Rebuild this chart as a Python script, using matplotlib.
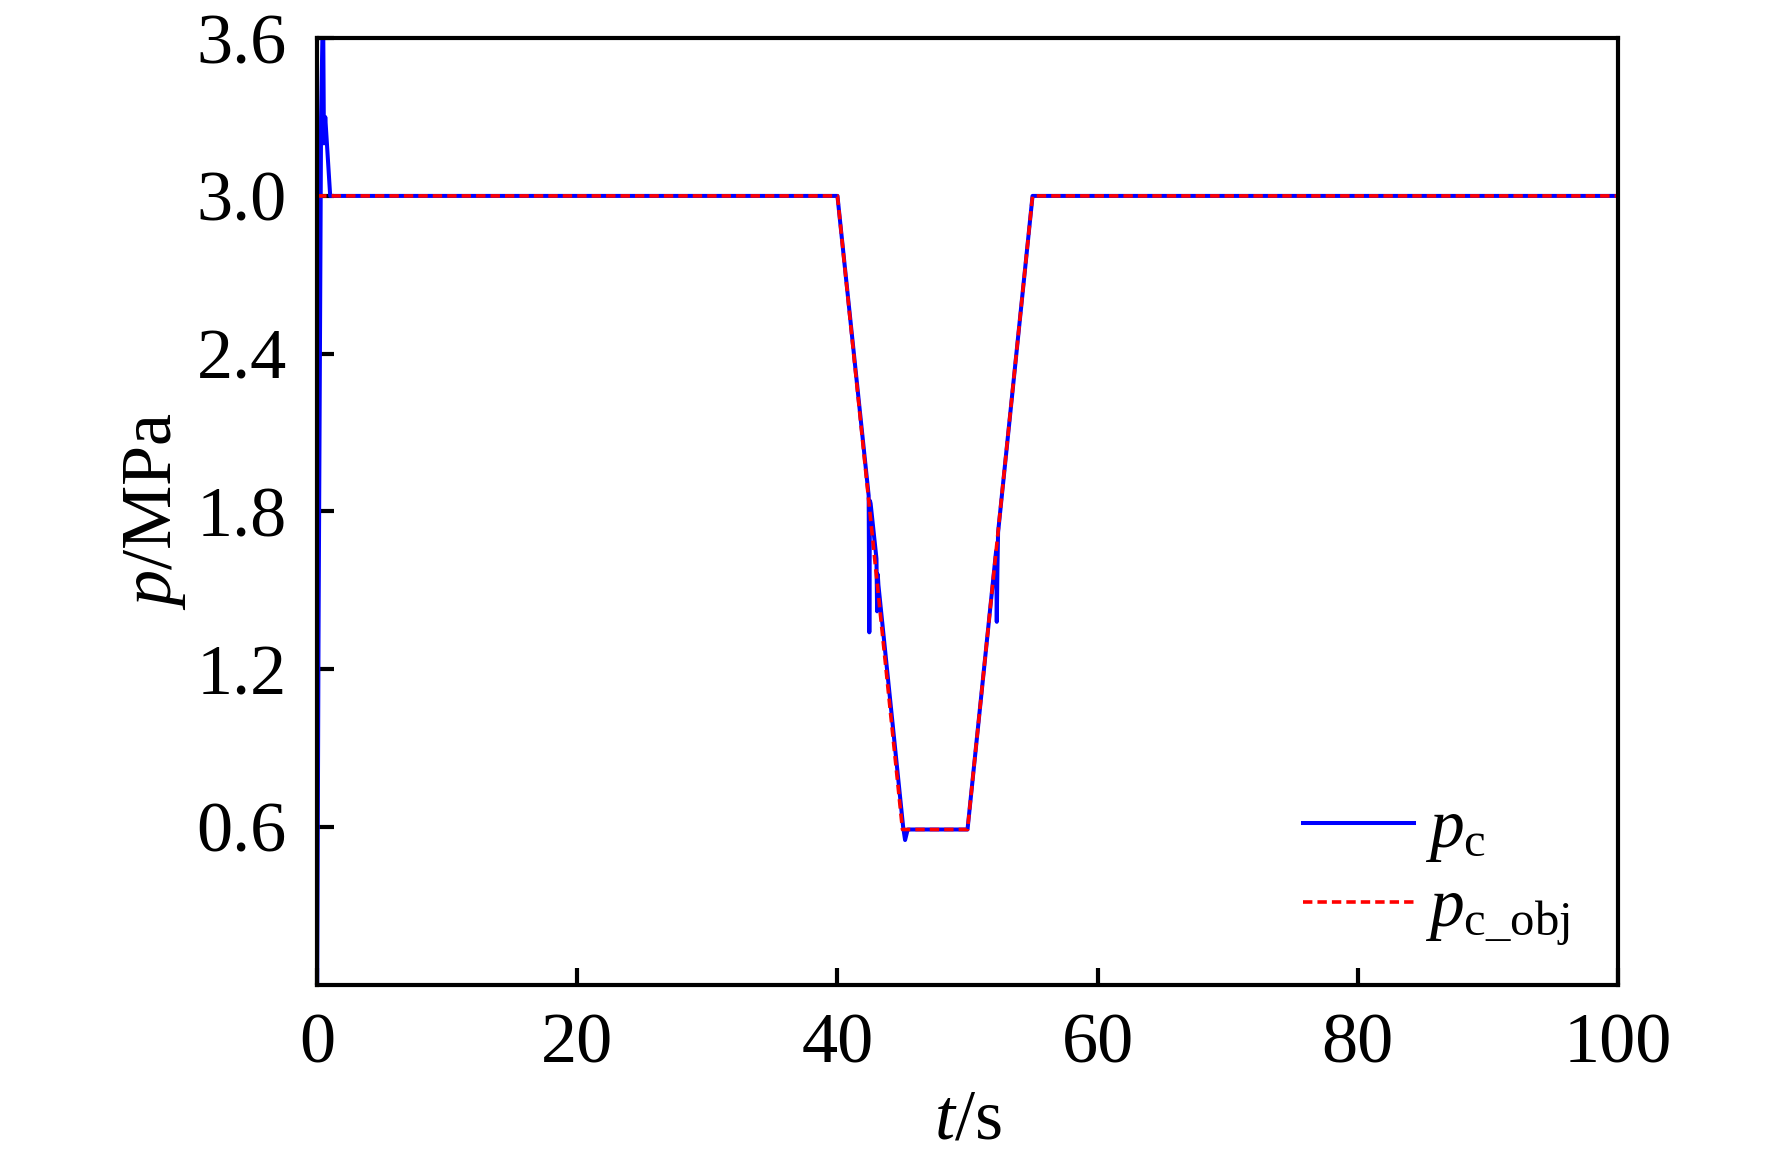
import numpy as np
import matplotlib.pyplot as plt

plt.rcParams['font.family'] = ['Liberation Serif', 'DejaVu Serif']
plt.rcParams['mathtext.fontset'] = 'custom'
plt.rcParams['mathtext.rm'] = 'Liberation Serif'
plt.rcParams['mathtext.it'] = 'Liberation Serif:italic'

t_c = [0, 0.1, 0.2, 0.3, 0.45, 0.52, 0.62, 1.0, 40.0,
       42.4, 42.45, 42.5, 42.55, 43.0, 43.05, 43.1, 43.15,
       45.05, 45.2, 45.4, 50.0,
       52.2, 52.25, 52.3, 52.35, 55.0, 100.0]
p_c = [0.0, 1.3, 2.3, 3.3, 3.75, 3.2, 3.3, 3.0, 3.0,
       1.86, 1.34, 1.84, 1.83, 1.62, 1.42, 1.56, 1.52,
       0.6, 0.55, 0.59, 0.59,
       1.65, 1.38, 1.58, 1.72, 3.0, 3.0]

# target pressure p_c_obj
t_obj = [0, 40, 45, 50, 55, 100]
p_obj = [3.0, 3.0, 0.59, 0.59, 3.0, 3.0]

xticks = [0, 20, 40, 60, 80, 100]
yticks = [0.6, 1.2, 1.8, 2.4, 3.0, 3.6]

fig = plt.figure(figsize=(17.72, 11.57), dpi=100)
ax = fig.add_axes([0.179, 0.149, 0.734, 0.818])

ax.plot(t_c, p_c, color='#0000ff', lw=2.9, label=r'$p_{\mathrm{c}}$')
ax.plot(t_obj, p_obj, color='#ff0000', lw=2.6, linestyle=(0, (2.6, 1.4)),
        label=r'$p_{\mathrm{c\_obj}}$')

ax.set_xlim(0, 100)
ax.set_ylim(0, 3.6)
ax.set_xticks(xticks)
ax.set_yticks(yticks)
ax.set_yticklabels(['%.1f' % v for v in yticks])
ax.tick_params(direction='in', length=12, width=3, labelsize=52)
ax.tick_params(axis='y', pad=22)
ax.tick_params(axis='x', pad=20)
for s in ax.spines.values():
    s.set_linewidth(3)

ax.set_xlabel(r'$t$/s', fontsize=52, labelpad=8)
ax.set_ylabel(r'$p$/MPa', fontsize=52, labelpad=6)

leg = ax.legend(loc='lower right', frameon=False, fontsize=50,
                handlelength=1.6, handletextpad=0.15, labelspacing=0.2,
                borderaxespad=0.3, bbox_to_anchor=(1.0, -0.013))

fig.savefig('out.png', dpi=100)
